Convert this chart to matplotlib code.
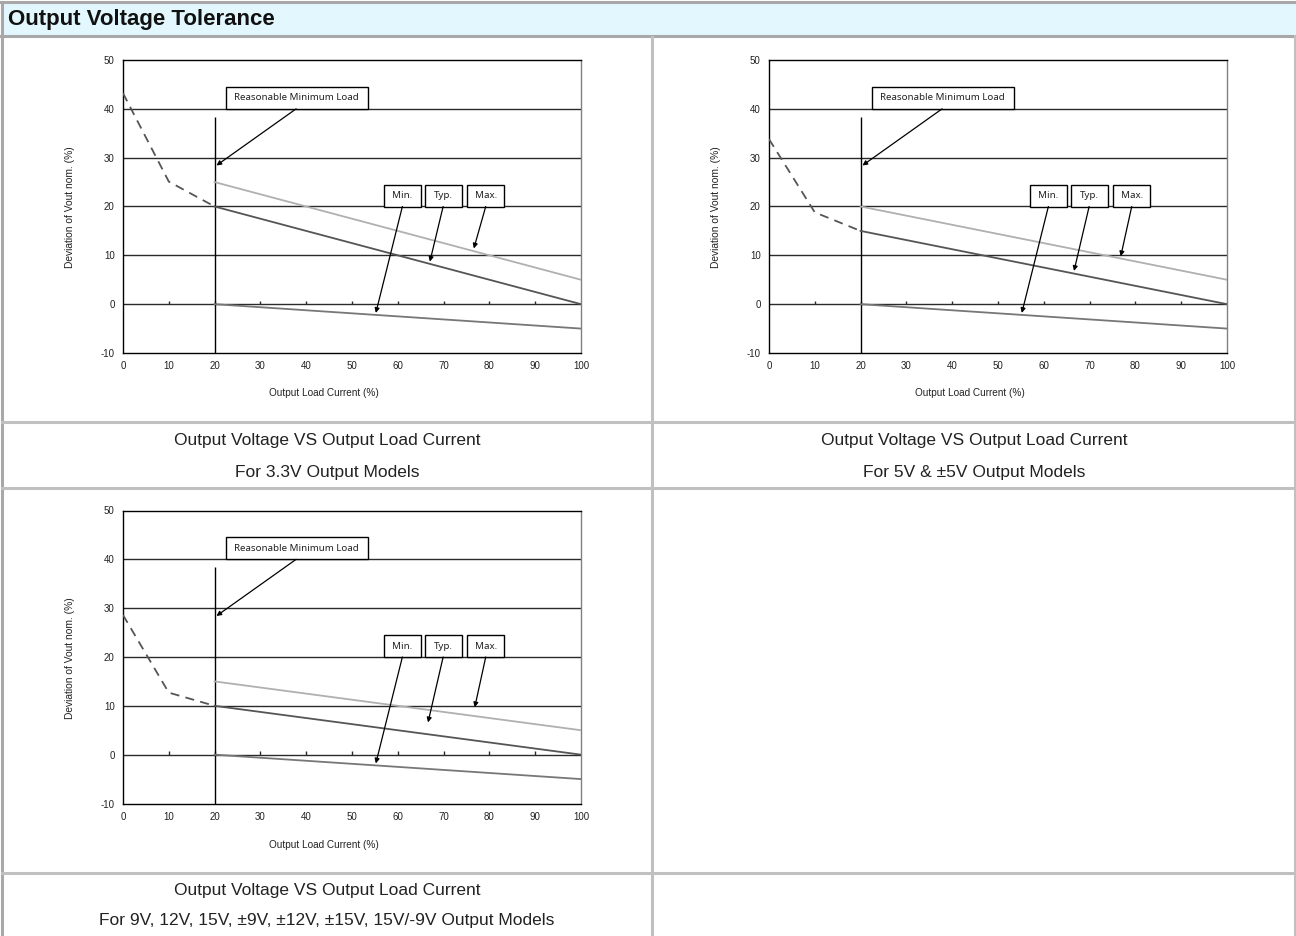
import matplotlib
matplotlib.use("Agg")
import matplotlib.pyplot as plt
from matplotlib.patches import Rectangle
from matplotlib.lines import Line2D

plt.rcParams["axes.unicode_minus"] = False

# ---------------- data ----------------
x_dash = [0, 10, 20]
x_line = [20, 100]

dash_33 = [43.2, 25.1, 20]
max_33 = [25, 5]
typ_33 = [20, 0]
min_33 = [0, -5]

dash_5 = [33.8, 18.8, 15]
max_5 = [20, 5]
typ_5 = [15, 0]
min_5 = [0, -5]

dash_9 = [28.6, 12.7, 10]
max_9 = [15, 5]
typ_9 = [10, 0]
min_9 = [0, -5]

x_ticks = [0, 10, 20, 30, 40, 50, 60, 70, 80, 90, 100]
y_ticks = [-10, 0, 10, 20, 30, 40, 50]
grid_y = [10, 20, 30, 40]
min_load = 20

title = "Output Voltage Tolerance"
captions = [
    ("Output Voltage VS Output Load Current", "For 3.3V Output Models"),
    ("Output Voltage VS Output Load Current", "For 5V & \u00b15V Output Models"),
    ("Output Voltage VS Output Load Current",
     "For 9V, 12V, 15V, \u00b19V, \u00b112V, \u00b115V, 15V/-9V Output Models"),
]
xlabel = "Output Load Current (%)"
ylabel = "Deviation of Vout nom. (%)"

# ---------------- layout ----------------
W, H = 1296, 936
fig = plt.figure(figsize=(W / 100, H / 100), dpi=100)
fig.patch.set_facecolor("white")


def fx(px):
    return px / W


def fy(py):
    return 1 - py / H


NARROW = ["Liberation Sans Narrow", "Liberation Sans", "DejaVu Sans"]
ARIAL = ["Liberation Sans", "DejaVu Sans"]
LABF = ["Noto Sans", "Open Sans", "DejaVu Sans"]

# header
fig.add_artist(Rectangle((fx(2), fy(36)), fx(1294), 33 / H, transform=fig.transFigure,
                         facecolor="#E2F8FE", edgecolor="none", zorder=0))
tc = "#a8a8a8"
gc = "#c0c0c0"
fig.add_artist(Line2D([fx(0), fx(1296)], [fy(2), fy(2)], transform=fig.transFigure,
                      color=tc, lw=2.2))
fig.add_artist(Line2D([fx(0), fx(1296)], [fy(36), fy(36)], transform=fig.transFigure,
                      color=tc, lw=2.2))
fig.add_artist(Line2D([fx(2), fx(2)], [fy(2), fy(936)], transform=fig.transFigure,
                      color=tc, lw=2.2))
fig.add_artist(Line2D([fx(1295), fx(1295)], [fy(36), fy(936)], transform=fig.transFigure,
                      color=gc, lw=2.2))
for yy in [422, 488, 873]:
    fig.add_artist(Line2D([fx(2), fx(1295)], [fy(yy), fy(yy)], transform=fig.transFigure,
                          color=gc, lw=2.2))
fig.add_artist(Line2D([fx(652), fx(652)], [fy(37), fy(936)], transform=fig.transFigure,
                      color=gc, lw=2.2))

fig.text(fx(8), fy(19), title, family=NARROW, fontsize=16, fontweight="bold",
         va="center", ha="left", color="#111111")

# caption rows
cap_pos = [(327, 441, 473), (974, 441, 473), (327, 890, 921)]
for (l1, l2), (cx, y1, y2) in zip(captions, cap_pos):
    fig.text(fx(cx), fy(y1), l1, family=NARROW, fontsize=12.5, ha="center", va="center",
             color="#222222")
    fig.text(fx(cx), fy(y2), l2, family=NARROW, fontsize=12.5, ha="center", va="center",
             color="#222222")

# chart axes placements (pixels: left, right, top, bottom)
charts = [
    dict(box=(123, 581, 60, 353), dash=dash_33, mx=max_33, ty=typ_33, mn=min_33,
         typ_head=(67.0, 8.7), max_head=(76.6, 11.4), xl=(324, 393), yl=(70, 207)),
    dict(box=(769, 1227, 60, 353), dash=dash_5, mx=max_5, ty=typ_5, mn=min_5,
         typ_head=(66.6, 6.8), max_head=(76.8, 9.8), xl=(970, 393), yl=(716, 207)),
    dict(box=(123, 581, 510.5, 803.5), dash=dash_9, mx=max_9, ty=typ_9, mn=min_9,
         typ_head=(66.6, 6.6), max_head=(76.8, 9.7), xl=(324, 845), yl=(70, 658)),
]

for c in charts:
    l, r, t, b = c["box"]
    ax = fig.add_axes([fx(l), fy(b), (r - l) / W, (b - t) / H])
    ax.set_xlim(0, 100)
    ax.set_ylim(-10, 50)
    ax.set_xticks(x_ticks)
    ax.set_yticks(y_ticks)
    ax.tick_params(length=0, labelsize=7, pad=6, colors="#222222")
    for lab in ax.get_xticklabels() + ax.get_yticklabels():
        lab.set_family(ARIAL)
    for s in ax.spines.values():
        s.set_color("black")
        s.set_linewidth(1.0)
    ax.spines["right"].set_color("#808080")

    # horizontal grid lines
    for gy in grid_y:
        ax.axhline(gy, color="#2a2a2a", lw=1.0, zorder=1)
    ax.axhline(0, color="#2a2a2a", lw=1.0, zorder=1)
    ax.vlines(x_ticks[1:-1], 0, 0.75, color="#2a2a2a", lw=1.0, zorder=1)

    # minimum load marker
    ax.vlines(min_load, -10, 38.4, color="black", lw=1.0, zorder=2)

    # curves
    ax.plot(x_dash, c["dash"], color="#555555", lw=1.3, ls=(0, (5, 3.5)), zorder=3)
    ax.plot(x_line, c["mx"], color="#b0b0b0", lw=1.3, zorder=3)
    ax.plot(x_line, c["ty"], color="#555555", lw=1.3, zorder=3)
    ax.plot(x_line, c["mn"], color="#777777", lw=1.3, zorder=3)

    # annotation boxes
    def box(x0, x1, y0, y1, text):
        ax.add_patch(Rectangle((x0, y0), x1 - x0, y1 - y0, facecolor="white",
                               edgecolor="black", lw=1.0, zorder=5))
        ax.text((x0 + x1) / 2, (y0 + y1) / 2, text, ha="center", va="center",
                fontsize=7.0, family=LABF, zorder=6, color="#222222")

    box(22.4, 53.4, 40, 44.5, "Reasonable Minimum Load")
    box(57.0, 65.0, 20, 24.5, "Min.")
    box(66.0, 74.1, 20, 24.5, "Typ.")
    box(75.2, 83.2, 20, 24.5, "Max.")

    ap = dict(arrowstyle="-|>", color="black", lw=0.9, mutation_scale=7,
              shrinkA=0, shrinkB=0)
    ax.annotate("", xy=(20.4, 28.4), xytext=(37.8, 40), arrowprops=ap, zorder=7)
    ax.annotate("", xy=(55.2, -1.8), xytext=(61.0, 20), arrowprops=ap, zorder=7)
    ax.annotate("", xy=c["typ_head"], xytext=(69.9, 20), arrowprops=ap, zorder=7)
    ax.annotate("", xy=c["max_head"], xytext=(79.2, 20), arrowprops=ap, zorder=7)

    fig.text(fx(c["xl"][0]), fy(c["xl"][1]), xlabel, ha="center", va="center",
             fontsize=7.2, family=ARIAL, color="#222222")
    fig.text(fx(c["yl"][0]), fy(c["yl"][1]), ylabel, ha="center", va="center",
             rotation=90, fontsize=7.4, family=ARIAL, color="#222222")

fig.savefig("out.png", dpi=100, facecolor="white")
